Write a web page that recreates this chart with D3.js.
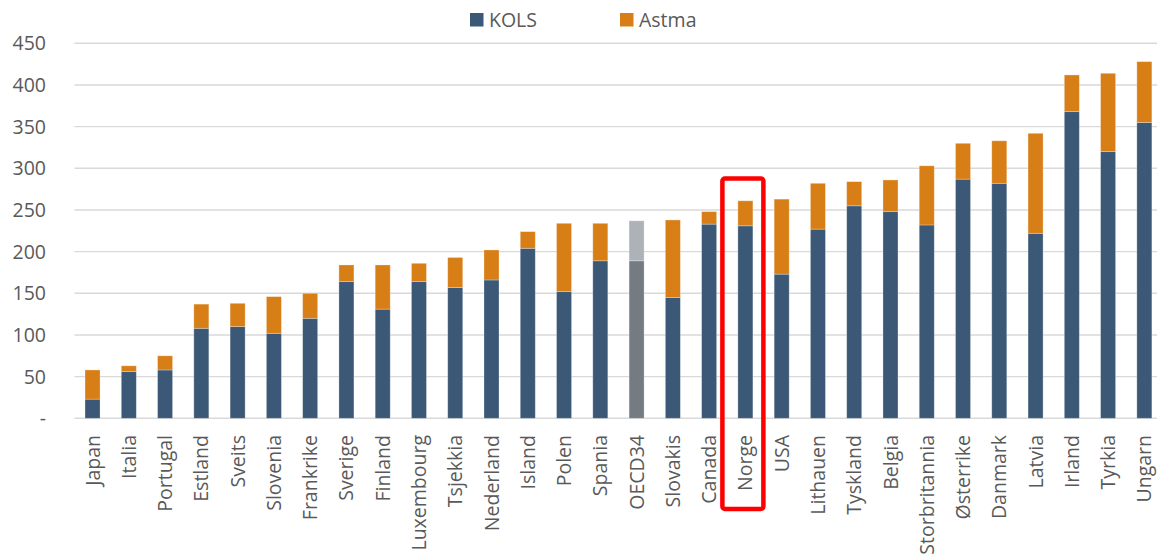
<!DOCTYPE html>
<html><head><meta charset="utf-8">
<script src="https://cdn.jsdelivr.net/npm/d3@7"></script>
<style>
html,body{margin:0;padding:0;background:#fff;}
svg{display:block;}
text{font-family:"Open Sans",sans-serif;fill:#595959;}
</style></head>
<body>
<div id="chart"></div>
<script>
const categories = ["Japan","Italia","Portugal","Estland","Sveits","Slovenia","Frankrike","Sverige","Finland","Luxembourg","Tsjekkia","Nederland","Island","Polen","Spania","OECD34","Slovakis","Canada","Norge","USA","Lithauen","Tyskland","Belgia","Storbritannia","Østerrike","Danmark","Latvia","Irland","Tyrkia","Ungarn"];
const kols  = [23,56,58,108,110,102,120,164,131,164,157,166,204,152,189,189,145,233,231,173,227,255,248,232,287,282,222,368,320,355];
const astma = [35,7,17,29,28,44,30,20,53,22,36,36,20,82,45,48,93,15,30,90,55,29,38,71,43,51,120,44,94,73];
const yTicks = [0,50,100,150,200,250,300,350,400,450];
const seriesNames = ["KOLS","Astma"];
const highlight = "OECD34";
const boxed = "Norge";

const W = 1157, H = 560;
const svg = d3.select("#chart").append("svg").attr("width", W).attr("height", H);

const x = d3.scaleBand().domain(categories).range([74.4, 1162.5]).paddingInner(0.586).paddingOuter(0.293);
const y = d3.scaleLinear().domain([0, 450]).range([418.3, 43.3]);

const colors = {KOLS:"#3b5876", Astma:"#d87e16"};
const hiColors = {KOLS:"#757b83", Astma:"#acb2b8"};

// gridlines
svg.append("g").selectAll("line").data(yTicks).join("line")
  .attr("x1", 74.4).attr("x2", W).attr("y1", d => y(d)).attr("y2", d => y(d))
  .attr("stroke", "#d9d9d9").attr("stroke-width", 1.4);

// y axis labels
svg.append("g").selectAll("text").data(yTicks).join("text")
  .attr("x", 46).attr("y", d => y(d)).attr("dy", "0.36em")
  .attr("text-anchor", "end").style("font-size", "19.5px")
  .text(d => d === 0 ? "-" : d);

// stacked data
const rows = categories.map((c, i) => ({cat: c, KOLS: kols[i], Astma: astma[i]}));
const stack = d3.stack().keys(seriesNames)(rows);

const g = svg.append("g");
stack.forEach(layer => {
  g.append("g").selectAll("rect").data(layer).join("rect")
    .attr("x", d => x(d.data.cat))
    .attr("width", x.bandwidth())
    .attr("y", d => y(d[1]))
    .attr("height", d => y(d[0]) - y(d[1]))
    .attr("fill", d => d.data.cat === highlight ? hiColors[layer.key] : colors[layer.key])
    .attr("stroke", "#ffffff").attr("stroke-opacity", 0.35).attr("stroke-width", 0.8);
});

// x labels
svg.append("g").selectAll("text").data(categories).join("text")
  .attr("transform", d => `translate(${x(d) + x.bandwidth()/2},435) rotate(-90)`)
  .attr("dy", "0.36em")
  .attr("text-anchor", "end").style("font-size", "19.5px")
  .text(d => d);

// red box around Norge
const bx = x(boxed) + x.bandwidth()/2;
svg.append("rect")
  .attr("x", bx - 23).attr("y", 178.5)
  .attr("width", 41).attr("height", 509 - 178.5)
  .attr("rx", 2.5)
  .attr("fill", "none").attr("stroke", "#ff0000").attr("stroke-width", 4.5);

// legend
const legend = svg.append("g");
const legItems = [{k:"KOLS", x:470}, {k:"Astma", x:620}];
legItems.forEach(it => {
  legend.append("rect").attr("x", it.x).attr("y", 13).attr("width", 13.5).attr("height", 13.5).attr("fill", colors[it.k]);
  legend.append("text").attr("x", it.x + 19).attr("y", 20).attr("dy", "0.36em")
    .style("font-size", "19.5px").text(it.k);
});
</script>
</body></html>
